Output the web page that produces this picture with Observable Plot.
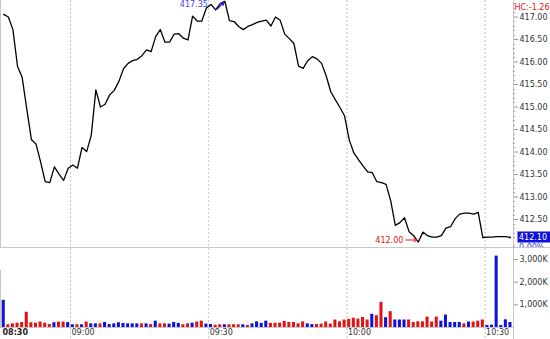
<!DOCTYPE html>
<html><head><meta charset="utf-8">
<script src="https://cdn.jsdelivr.net/npm/d3@7"></script>
<script src="https://cdn.jsdelivr.net/npm/@observablehq/plot@0.6"></script>
<style>
html,body{margin:0;padding:0;background:#fff;}
#chart{width:550px;height:339px;position:relative;overflow:hidden;background:#fff;}
#chart svg{display:block;}
</style></head><body><div id="chart"></div>
<script>
// ---- data ----
const firstMinute = 525; // 08:45, one bar per minute
const prices = [
 417.06,417.00,416.72,415.90,415.66,414.96,414.28,414.18,413.78,413.34,
 413.32,413.67,413.51,413.37,413.64,413.71,413.64,414.10,414.01,414.37,
 415.38,415.00,415.06,415.27,415.37,415.57,415.85,415.97,416.03,416.06,
 416.14,416.27,416.23,416.57,416.72,416.44,416.44,416.62,416.63,416.53,
 416.49,417.02,416.91,416.91,417.20,417.28,417.16,417.30,417.35,416.92,
 416.90,416.79,416.72,416.79,416.83,416.88,416.91,416.93,416.80,417.00,
 416.93,416.62,416.52,416.41,415.91,415.86,416.03,416.12,416.07,415.97,
 415.69,415.34,415.16,414.99,414.80,414.27,413.98,413.83,413.69,413.56,
 413.54,413.34,413.32,413.28,412.92,412.37,412.43,412.54,412.23,412.14,
 412.00,412.22,412.14,412.11,412.11,412.14,412.31,412.34,412.52,412.62,
 412.64,412.64,412.62,412.66,412.10,412.11,412.11,412.12,412.12,412.12,
 412.10
];
const volumes = [
 1200,120,160,190,220,670,210,190,240,190,
 130,210,240,240,220,120,120,120,240,160,
 160,160,220,130,160,210,180,160,160,160,
 160,160,130,280,160,160,150,220,180,120,
 160,190,240,280,150,130,100,120,120,120,
 120,120,120,90,160,250,180,280,180,190,
 190,270,220,220,160,250,160,130,130,150,
 240,150,330,250,330,360,410,370,440,330,
 580,520,1110,430,700,330,330,330,330,220,
 250,250,460,240,460,280,550,220,220,220,
 160,240,240,280,330,90,100,3150,90,340,
 220
];
const volumeSides = [
 "B","R","R","R","R","R","R","R","R","R",
 "R","B","R","R","B","B","R","B","R","B",
 "B","R","B","B","B","B","B","B","B","B",
 "R","B","R","B","R","R","B","B","B","R",
 "R","B","R","R","B","B","R","R","B","R",
 "R","R","B","R","B","B","B","B","R","R",
 "R","R","R","R","R","R","B","B","R","R",
 "R","R","R","R","R","R","R","R","R","R",
 "B","R","R","B","R","B","B","B","R","R",
 "R","R","R","R","R","B","B","B","B","B",
 "R","B","R","R","R","B","B","B","B","B",
 "B"
];
const priceTicks = [412.5,413,413.5,414,414.5,415,415.5,416,416.5,417];
const volumeTicks = [1000,2000,3000];
const timeTicks = [540,570,600,630];
const timeLabels = ["09:00","09:30","10:00","10:30"];
const sessionLabel = "08:30";
const highValue = 417.35, lowValue = 412.00, lastValue = 412.10;
const changePct = "0.00%";
const hcLabel = "HC:-1.26";

// ---- layout ----
const W = 550, H1 = 248, H2 = 91, MR = 37;
const xDomain = [524.8, 636.16];
const blue = "#1010d8", red = "#e01414";
const font = "'DejaVu Sans', Verdana, sans-serif";

const rows = prices.map((p, i) => ({t: firstMinute + i + 0.5, price: p, vol: volumes[i], side: volumeSides[i]}));
const hi = rows.find(d => d.price === highValue);
const lo = rows.find(d => d.price === lowValue);

const priceChart = Plot.plot({
  width: W, height: H1, marginLeft: 0, marginRight: MR, marginTop: 0, marginBottom: 1,
  style: {fontFamily: font, fontSize: "8px", color: "#999", background: "white"},
  x: {domain: xDomain, axis: null},
  y: {domain: [411.878, 417.367], axis: "right", ticks: priceTicks, tickFormat: d => d.toFixed(2), tickSize: 4, tickPadding: 2, label: null},
  marks: [
    Plot.ruleX(timeTicks, {stroke: "#c4c4c4", strokeDasharray: "2,2"}),
    Plot.ruleX([xDomain[0]], {stroke: "#c8c8c8"}),
    Plot.ruleX([xDomain[1]], {stroke: "#c8c8c8"}),
    Plot.line(rows, {x: "t", y: "price", stroke: "#000", strokeWidth: 1.3}),
    Plot.arrow([hi], {x1: d => d.t - 1.6, y1: d => d.price - 0.17, x2: d => d.t - 0.2, y2: d => d.price - 0.02, stroke: "#2020e0", strokeWidth: 1.3, headLength: 5}),
    Plot.text([hi], {x: "t", y: "price", text: d => d.price.toFixed(2), textAnchor: "end", dx: -17, dy: 3.5, fill: "#4646e6"}),
    Plot.arrow([lo], {x1: d => d.t - 2.7, y1: "price", x2: d => d.t - 0.3, y2: "price", dy: -2, stroke: red, strokeWidth: 1, headLength: 5}),
    Plot.text([lo], {x: "t", y: "price", text: d => d.price.toFixed(2), textAnchor: "end", dx: -15, dy: -2, fill: red}),
    Plot.text([hcLabel], {frameAnchor: "top-right", textAnchor: "start", dx: 1, dy: 4, fill: red})
  ]
});

const volChart = Plot.plot({
  width: W, height: H2, marginLeft: 0, marginRight: MR, marginTop: 0, marginBottom: 12,
  style: {fontFamily: font, fontSize: "8px", color: "#999", background: "white"},
  x: {domain: xDomain, axis: null},
  y: {domain: [0, 3485], axis: "right", ticks: volumeTicks, tickFormat: d => d3.format(",")(d) + "K", tickSize: 4, tickPadding: 2, label: null},
  marks: [
    Plot.ruleX(timeTicks, {stroke: "#c4c4c4", strokeDasharray: "2,2", insetBottom: -12}),
    Plot.ruleX([xDomain[0]], {stroke: "#c8c8c8", insetTop: 22}),
    Plot.ruleX([xDomain[1]], {stroke: "#c8c8c8", insetBottom: -12}),
    Plot.rectY(rows.filter(d => d.side === "B"), {x1: d => d.t - 0.33, x2: d => d.t + 0.33, y: "vol", fill: blue}),
    Plot.rectY(rows.filter(d => d.side === "R"), {x1: d => d.t - 0.33, x2: d => d.t + 0.33, y: "vol", fill: red}),
    Plot.ruleY([0], {stroke: "#c8c8c8"}),
    Plot.text(timeTicks, {x: d => d, text: (d, i) => timeLabels[i], frameAnchor: "bottom", textAnchor: "start", dx: 1, dy: 7, fill: "#333"}),
    Plot.text([sessionLabel], {frameAnchor: "bottom-left", textAnchor: "start", dx: 2, dy: 7, fontWeight: "bold", fill: "#222"})
  ]
});

// post-render styling using the chart scales
[priceChart, volChart].forEach(c => {
  d3.select(c).selectAll("g[aria-label^='y-axis'] text").attr("fill", "#333");
});
const ps = d3.select(priceChart);
const ySc = priceChart.scale("y");
// minor ticks on price axis
d3.range(4119, 4174).map(v => v / 10).filter(v => Math.abs(v * 2 - Math.round(v * 2)) > 1e-6).forEach(v => {
  const y = Math.round(ySc.apply(v)) + 0.5;
  ps.append("line").attr("x1", W - MR).attr("x2", W - MR + 2).attr("y1", y).attr("y2", y).attr("stroke", "#aaa");
});
const yl = ySc.apply(lastValue);
ps.append("rect").attr("x", W - MR + 4.5).attr("y", yl - 5.5).attr("width", MR - 4.5).attr("height", 11).attr("fill", blue);
ps.append("text").attr("x", W - MR + 6).attr("y", yl).attr("dy", "0.32em").attr("text-anchor", "start").attr("fill", "#fff").text(lastValue.toFixed(2));
ps.append("text").attr("x", W - MR + 6).attr("y", yl + 10.5).attr("dy", "0.32em").attr("text-anchor", "start").attr("fill", "#3a3af0").text(changePct);
ps.append("line").attr("x1", 0).attr("x2", W).attr("y1", H1 - 0.5).attr("y2", H1 - 0.5).attr("stroke", "#c8c8c8");

const root = document.getElementById("chart");
root.appendChild(priceChart);
root.appendChild(volChart);
</script>
</body></html>
